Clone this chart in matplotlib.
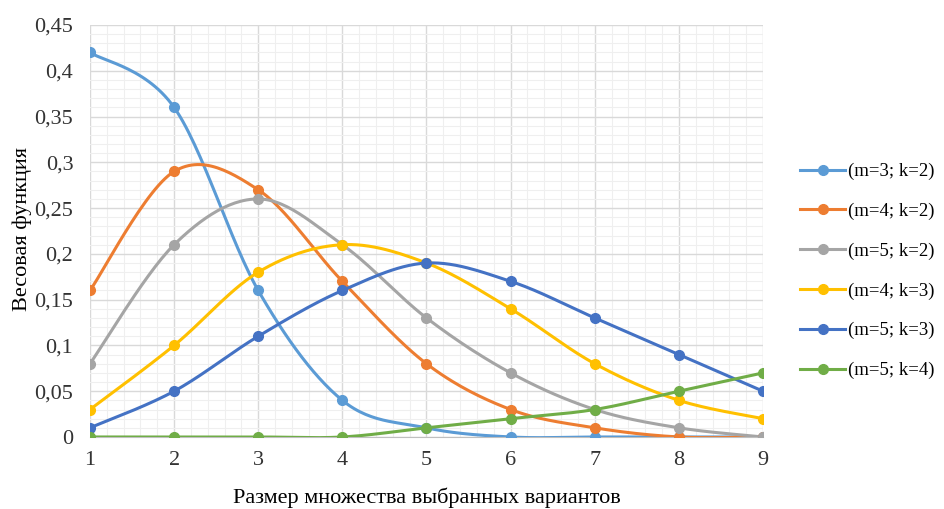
import numpy as np
import matplotlib.pyplot as plt
from matplotlib.ticker import MultipleLocator, FuncFormatter

# Данные
x = [1, 2, 3, 4, 5, 6, 7, 8, 9]
labels = ['(m=3; k=2)', '(m=4; k=2)', '(m=5; k=2)', '(m=4; k=3)', '(m=5; k=3)', '(m=5; k=4)']
s_m3k2 = [0.42, 0.36, 0.16, 0.04, 0.01, 0.0, 0.0, 0.0, 0.0]
s_m4k2 = [0.16, 0.29, 0.27, 0.17, 0.08, 0.03, 0.01, 0.0, 0.0]
s_m5k2 = [0.08, 0.21, 0.26, 0.21, 0.13, 0.07, 0.03, 0.01, 0.0]
s_m4k3 = [0.03, 0.10, 0.18, 0.21, 0.19, 0.14, 0.08, 0.04, 0.02]
s_m5k3 = [0.01, 0.05, 0.11, 0.16, 0.19, 0.17, 0.13, 0.09, 0.05]
s_m5k4 = [0.0, 0.0, 0.0, 0.0, 0.01, 0.02, 0.03, 0.05, 0.07]
series = [s_m3k2, s_m4k2, s_m5k2, s_m4k3, s_m5k3, s_m5k4]
colors = ['#5B9BD5', '#ED7D31', '#A5A5A5', '#FFC000', '#4472C4', '#70AD47']

plt.rcParams['font.family'] = ['Liberation Serif', 'DejaVu Serif']


def smooth(xs, ys, n=30):
    # сглаживание как в Excel (кривые Безье по Катмуллу-Рому)
    xs = np.asarray(xs, float)
    ys = np.asarray(ys, float)
    px = np.concatenate([[xs[0]], xs, [xs[-1]]])
    py = np.concatenate([[ys[0]], ys, [ys[-1]]])
    ox, oy = [], []
    t = np.linspace(0, 1, n)
    for i in range(1, len(px) - 2):
        x0, y0 = px[i], py[i]
        x3, y3 = px[i + 1], py[i + 1]
        x1 = x0 + (px[i + 1] - px[i - 1]) / 6
        y1 = y0 + (py[i + 1] - py[i - 1]) / 6
        x2 = x3 - (px[i + 2] - px[i]) / 6
        y2 = y3 - (py[i + 2] - py[i]) / 6
        bx = (1 - t) ** 3 * x0 + 3 * (1 - t) ** 2 * t * x1 + 3 * (1 - t) * t ** 2 * x2 + t ** 3 * x3
        by = (1 - t) ** 3 * y0 + 3 * (1 - t) ** 2 * t * y1 + 3 * (1 - t) * t ** 2 * y2 + t ** 3 * y3
        ox.extend(bx)
        oy.extend(by)
    return np.array(ox), np.array(oy)


fig = plt.figure(figsize=(9.44, 5.09), dpi=100)
ax = fig.add_axes([0.0953, 0.1415, 0.713, 0.8094])

for ys, c, lab in zip(series, colors, labels):
    sx, sy = smooth(x, ys)
    ax.plot(sx, sy, color=c, lw=2.2, zorder=3)
    ax.plot(x, ys, 'o', color=c, ms=7, zorder=4)
    ax.plot([], [], '-o', color=c, lw=2.2, ms=7, label=lab)

ax.set_xlim(1, 9)
ax.set_ylim(0, 0.45)
ax.xaxis.set_major_locator(MultipleLocator(1))
ax.xaxis.set_minor_locator(MultipleLocator(0.2))
ax.yaxis.set_major_locator(MultipleLocator(0.05))
ax.yaxis.set_minor_locator(MultipleLocator(0.01))
ax.yaxis.set_major_formatter(FuncFormatter(lambda v, p: f'{v:.2f}'.rstrip('0').rstrip('.').replace('.', ',')))

ax.grid(which='major', color='#D9D9D9', lw=1.0, zorder=0)
ax.grid(which='minor', color='#EFEFEF', lw=0.8, zorder=0)
ax.set_axisbelow(True)
for s in ['top', 'right', 'left']:
    ax.spines[s].set_visible(False)
ax.spines['bottom'].set_color('#BFBFBF')
ax.tick_params(which='both', length=0, labelsize=16, colors='#333333')
ax.tick_params(axis='x', pad=10)
ax.tick_params(axis='y', pad=12)

ax.set_xlabel('Размер множества выбранных вариантов', fontsize=16, va='center')
ax.xaxis.set_label_coords(0.5, -(498 - 437) / 412)
ax.set_ylabel('Весовая функция', fontsize=16, va='center')
ax.yaxis.set_label_coords(-(90 - 22) / 673, 0.505)

fig.legend(loc='center left', bbox_to_anchor=(800 / 944, 1 - 271 / 509), frameon=False,
           fontsize=13.5, labelspacing=1.2, handlelength=2.4, handletextpad=0.15,
           borderpad=0, borderaxespad=0)

fig.savefig('out.png', dpi=100)
